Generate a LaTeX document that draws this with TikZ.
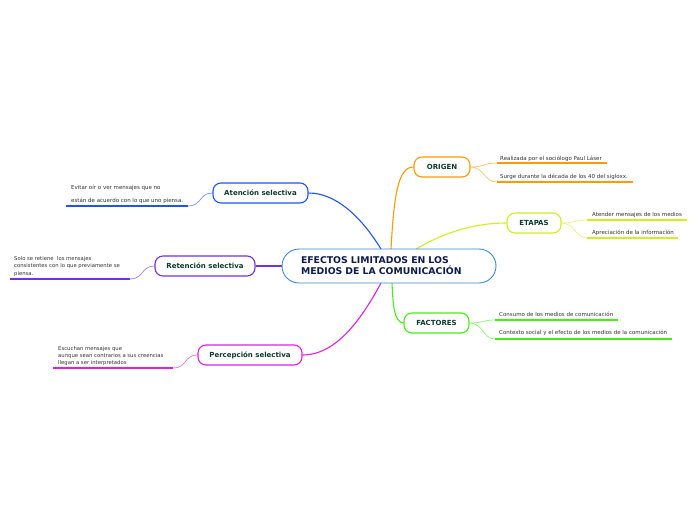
\documentclass[tikz,border=0pt]{standalone}
\usepackage{fontspec}
\setmainfont{DejaVu Sans}
\definecolor{corange}{HTML}{FF9A00}
\definecolor{cyellow}{HTML}{CFEF1F}
\definecolor{cgreen}{HTML}{44EE11}
\definecolor{cblue}{HTML}{1A55F0}
\definecolor{cpurple}{HTML}{7030E8}
\definecolor{cmagenta}{HTML}{E020E0}
\definecolor{ccentral}{HTML}{3A88D0}
\definecolor{ctopic}{HTML}{0E3B2E}
\definecolor{ccentext}{HTML}{0E1A4A}
\definecolor{csub}{HTML}{333333}
\tikzset{
  central/.style={draw=ccentral, line width=0.9pt, fill=white, rounded corners=17pt,
    minimum width=214pt, minimum height=34pt, inner sep=0pt},
  topic/.style={draw=#1, line width=1.1pt, fill=white, rounded corners=8pt,
    minimum height=20pt, inner sep=0pt, font=\fontsize{7}{8}\selectfont\bfseries, text=ctopic},
  subtext/.style={font=\fontsize{5.5}{6.5}\selectfont, text=csub, inner sep=0pt, align=left},
  mainlink/.style={draw=#1, line width=1.1pt},
  sublink/.style={draw=#1!60, line width=0.7pt},
  uline/.style={draw=#1, line width=1.6pt},
}
\begin{document}
\begin{tikzpicture}[x=1pt,y=-1pt]
\useasboundingbox (0,0) rectangle (696,520);
\fill[white] (0,0) rectangle (696,520);

% main connectors (behind nodes)
\coordinate (cO) at (391,249);
\coordinate (cE) at (416,249);
\coordinate (cF) at (392,283);
\coordinate (cA) at (381,249);
\coordinate (cP) at (381,283);

\node[topic=corange, minimum width=56pt] (origen) at (442,167) {ORIGEN};
\node[topic=cyellow, minimum width=54pt] (etapas) at (534,223) {ETAPAS};
\node[topic=cgreen, minimum width=65pt] (factores) at (436.5,323) {FACTORES};
\node[topic=cblue, minimum width=95pt] (aten) at (260.5,193) {Atención selectiva};
\node[topic=cpurple, minimum width=100pt] (reten) at (205,266) {Retención selectiva};
\node[topic=cmagenta, minimum width=104pt] (perc) at (250,355) {Percepción selectiva};

\draw[mainlink=corange] (cO) .. controls (394,195) and (398,167) .. (origen.west);
\draw[mainlink=cyellow] (cE) .. controls (445,232) and (475,223) .. (etapas.west);
\draw[mainlink=cgreen] (cF) .. controls (393,305) and (394,322) .. (factores.west);
\draw[mainlink=cblue] (cA) .. controls (360,215) and (335,193) .. (aten.east);
\draw[mainlink=cpurple] (reten.east) -- (282,266);
\draw[mainlink=cmagenta] (cP) .. controls (360,322) and (335,355) .. (perc.east);

\node[central, text width=176pt, align=left, font=\fontsize{9.3}{11}\selectfont\bfseries, text=ccentext] (center) at (389,266)
  {EFECTOS LIMITADOS EN LOS\\MEDIOS DE LA COMUNICACIÓN};

% ORIGEN subtopics
\coordinate (o1s) at (497,163); \coordinate (o1e) at (607,163);
\coordinate (o2s) at (497,182); \coordinate (o2e) at (633,182);
\draw[uline=corange] (o1s) -- (o1e);
\draw[uline=corange] (o2s) -- (o2e);
\node[subtext, anchor=base west] (o1) at (500,160) {Realizada por el sociólogo Paul Láser};
\node[subtext, anchor=base west] (o2) at (500,178) {Surge durante la década de los 40 del sigloxx.};
\draw[sublink=corange] (origen.east) .. controls (484,167) and (484,163) .. (o1s);
\draw[sublink=corange] (origen.east) .. controls (484,167) and (484,182) .. (o2s);

% ETAPAS subtopics
\coordinate (e1s) at (587,220); \coordinate (e1e) at (687,220);
\coordinate (e2s) at (587,238); \coordinate (e2e) at (678,238);
\draw[uline=cyellow] (e1s) -- (e1e);
\draw[uline=cyellow] (e2s) -- (e2e);
\node[subtext, anchor=base west] (e1) at (592,216) {Atender mensajes de los medios};
\node[subtext, anchor=base west] (e2) at (592,234) {Apreciación de la información};
\draw[sublink=cyellow] (etapas.east) .. controls (575,223) and (575,220) .. (e1s);
\draw[sublink=cyellow] (etapas.east) .. controls (575,223) and (575,238) .. (e2s);

% FACTORES subtopics
\coordinate (f1s) at (495,320); \coordinate (f1e) at (618,320);
\coordinate (f2s) at (495,339); \coordinate (f2e) at (672,339);
\draw[uline=cgreen] (f1s) -- (f1e);
\draw[uline=cgreen] (f2s) -- (f2e);
\node[subtext, anchor=base west] (f1) at (499,316) {Consumo de los medios de comunicación};
\node[subtext, anchor=base west] (f2) at (499,334) {Contexto social y el efecto de los medios de la comunicación};
\draw[sublink=cgreen] (factores.east) .. controls (483,323) and (483,320) .. (f1s);
\draw[sublink=cgreen] (factores.east) .. controls (483,323) and (483,339) .. (f2s);

% Atención subtopic
\coordinate (a1s) at (188,206); \coordinate (a1e) at (66,206);
\draw[uline=cblue] (a1s) -- (a1e);
\node[subtext, anchor=base west] (a1a) at (71,189) {Evitar oír o ver mensajes que no};
\node[subtext, anchor=base west] (a1b) at (71,202) {están de acuerdo con lo que uno piensa.};
\draw[sublink=cblue] (aten.west) .. controls (199,193) and (202,206) .. (a1s);

% Retención subtopic
\coordinate (r1s) at (130,279); \coordinate (r1e) at (10,279);
\draw[uline=cpurple] (r1s) -- (r1e);
\node[subtext, anchor=north west, font=\fontsize{5.3}{7.5}\selectfont] (r1) at (14,256) {Solo se retiene \ los mensajes\\consistentes con lo que previamente se\\piensa.};
\draw[sublink=cpurple] (reten.west) .. controls (141,266) and (144,279) .. (r1s);

% Percepción subtopic
\coordinate (p1s) at (173,368); \coordinate (p1e) at (53,368);
\draw[uline=cmagenta] (p1s) -- (p1e);
\node[subtext, anchor=north west, font=\fontsize{5.3}{7}\selectfont] (p1) at (58,346) {Escuchan mensajes que\\aunque sean contrarios a sus creencias\\llegan a ser interpretados};
\draw[sublink=cmagenta] (perc.west) .. controls (184,355) and (187,368) .. (p1s);
\end{tikzpicture}
\end{document}
